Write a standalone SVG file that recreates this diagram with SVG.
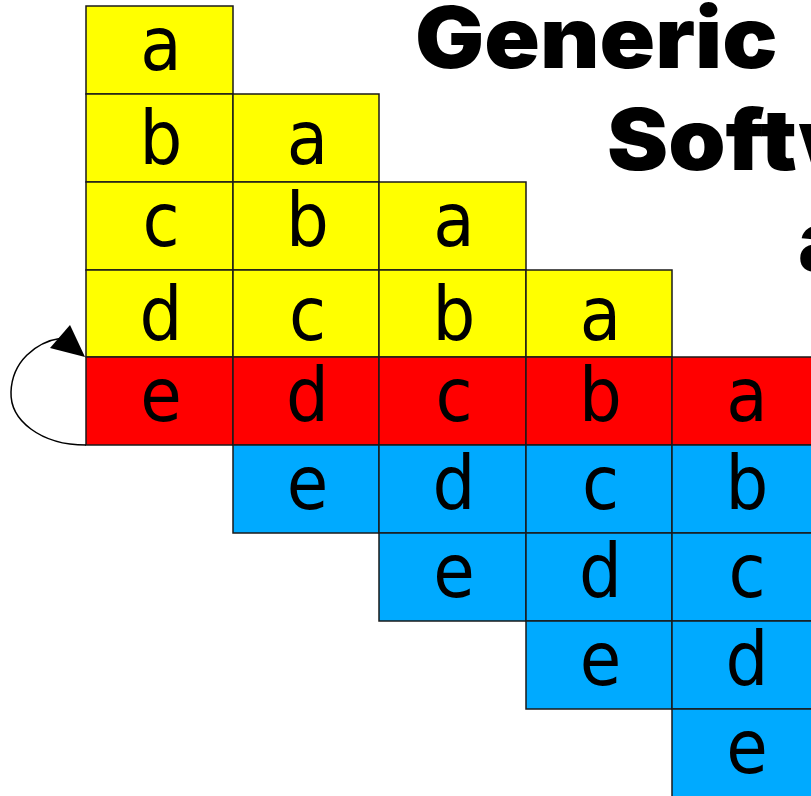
<svg xmlns="http://www.w3.org/2000/svg" width="811" height="796" viewBox="0 0 811 796">
  <style>
    .cell { stroke: #1a1a1a; stroke-width: 1.5; }
    .y { fill: #ffff00; }
    .r { fill: #ff0000; }
    .b { fill: #00aaff; }
    .lbl { font-family: "DejaVu Sans Condensed", "DejaVu Sans", Verdana, sans-serif; font-stretch: condensed; font-size: 75px; fill: #000; text-anchor: middle; }
    .title { font-family: Inter, "Liberation Sans", Arial, sans-serif; font-weight: 900; font-size: 85px; fill: #000; }
    .link { fill: none; stroke: #000; stroke-width: 1.5; }
  </style>
  <rect width="811" height="796" fill="#fff"/>

  <!-- title -->
  <g id="title">
    <text class="title" transform="translate(415,68) scale(1.08,1)">Generic</text>
    <text class="title" transform="translate(607,170) scale(1.08,1)">Software</text>
    <text class="title" transform="translate(798,271) scale(1.08,1)">and</text>
  </g>

  <!-- stage row 0 -->
  <g id="r0c0"><rect class="cell y" x="86" y="6" width="147" height="88"/><text class="lbl" x="161" y="70">a</text></g>

  <!-- stage row 1 -->
  <g id="r1c0"><rect class="cell y" x="86" y="94" width="147" height="88"/><text class="lbl" x="161" y="164">b</text></g>
  <g id="r1c1"><rect class="cell y" x="233" y="94" width="146" height="88"/><text class="lbl" x="307.5" y="164">a</text></g>

  <!-- stage row 2 -->
  <g id="r2c0"><rect class="cell y" x="86" y="182" width="147" height="88"/><text class="lbl" x="161" y="246">c</text></g>
  <g id="r2c1"><rect class="cell y" x="233" y="182" width="146" height="88"/><text class="lbl" x="307.5" y="246">b</text></g>
  <g id="r2c2"><rect class="cell y" x="379" y="182" width="147" height="88"/><text class="lbl" x="454" y="246">a</text></g>

  <!-- stage row 3 -->
  <g id="r3c0"><rect class="cell y" x="86" y="270" width="147" height="87"/><text class="lbl" x="161" y="340">d</text></g>
  <g id="r3c1"><rect class="cell y" x="233" y="270" width="146" height="87"/><text class="lbl" x="307.5" y="340">c</text></g>
  <g id="r3c2"><rect class="cell y" x="379" y="270" width="147" height="87"/><text class="lbl" x="454" y="340">b</text></g>
  <g id="r3c3"><rect class="cell y" x="526" y="270" width="146" height="87"/><text class="lbl" x="600.5" y="340">a</text></g>

  <!-- stage row 4 (active) -->
  <g id="r4c0"><rect class="cell r" x="86" y="357" width="147" height="88"/><text class="lbl" x="161" y="421">e</text></g>
  <g id="r4c1"><rect class="cell r" x="233" y="357" width="146" height="88"/><text class="lbl" x="307.5" y="421">d</text></g>
  <g id="r4c2"><rect class="cell r" x="379" y="357" width="147" height="88"/><text class="lbl" x="454" y="421">c</text></g>
  <g id="r4c3"><rect class="cell r" x="526" y="357" width="146" height="88"/><text class="lbl" x="600.5" y="421">b</text></g>
  <g id="r4c4"><rect class="cell r" x="672" y="357" width="147" height="88"/><text class="lbl" x="747" y="421">a</text></g>

  <!-- stage row 5 -->
  <g id="r5c1"><rect class="cell b" x="233" y="445" width="146" height="88"/><text class="lbl" x="307.5" y="509">e</text></g>
  <g id="r5c2"><rect class="cell b" x="379" y="445" width="147" height="88"/><text class="lbl" x="454" y="509">d</text></g>
  <g id="r5c3"><rect class="cell b" x="526" y="445" width="146" height="88"/><text class="lbl" x="600.5" y="509">c</text></g>
  <g id="r5c4"><rect class="cell b" x="672" y="445" width="147" height="88"/><text class="lbl" x="747" y="509">b</text></g>

  <!-- stage row 6 -->
  <g id="r6c2"><rect class="cell b" x="379" y="533" width="147" height="88"/><text class="lbl" x="454" y="597">e</text></g>
  <g id="r6c3"><rect class="cell b" x="526" y="533" width="146" height="88"/><text class="lbl" x="600.5" y="597">d</text></g>
  <g id="r6c4"><rect class="cell b" x="672" y="533" width="147" height="88"/><text class="lbl" x="747" y="597">c</text></g>

  <!-- stage row 7 -->
  <g id="r7c3"><rect class="cell b" x="526" y="621" width="146" height="88"/><text class="lbl" x="600.5" y="685">e</text></g>
  <g id="r7c4"><rect class="cell b" x="672" y="621" width="147" height="88"/><text class="lbl" x="747" y="685">d</text></g>

  <!-- stage row 8 -->
  <g id="r8c4"><rect class="cell b" x="672" y="709" width="147" height="88"/><text class="lbl" x="747" y="773">e</text></g>

  <!-- feedback loop -->
  <g id="connectors">
    <path class="link" d="M86,445 C40,445 10,420 11,392 C12,362 35,342 62,338"/>
    <polygon points="85,357 50,348 70,325" fill="#000"/>
  </g>
</svg>
